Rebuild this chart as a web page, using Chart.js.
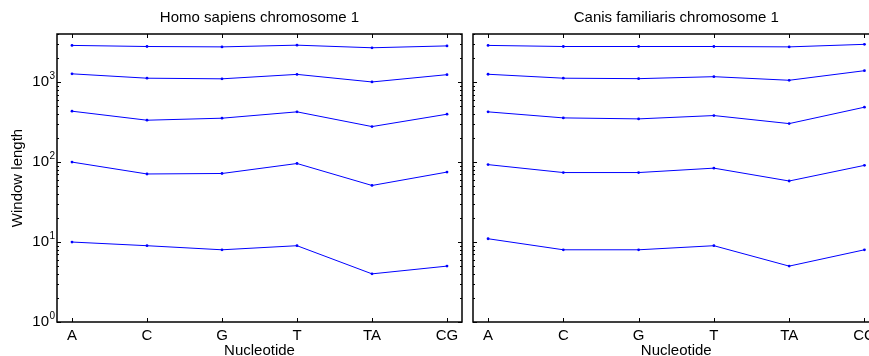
<!DOCTYPE html>
<html><head><meta charset="utf-8">
<script src="https://cdn.jsdelivr.net/npm/chart.js@4.4.1/dist/chart.umd.min.js"></script>
<style>
html,body{margin:0;padding:0;background:#fff;width:869px;height:356px;overflow:hidden;position:relative}
canvas{position:absolute;top:0}
#c1{left:0}
#c2{left:466px}
</style></head><body>
<canvas id="c1" width="466" height="356"></canvas>
<canvas id="c2" width="420" height="356"></canvas>
<script>
const categories = ['A', 'C', 'G', 'T', 'TA', 'CG'];
const yTickValues = [1, 10, 100, 1000];
const yTickExponents = ['0', '1', '2', '3'];
const titles = ['Homo sapiens chromosome 1', 'Canis familiaris chromosome 1'];

// Homo sapiens chromosome 1
const human1 = [2880, 2790, 2760, 2900, 2690, 2840];
const human2 = [1270, 1120, 1100, 1250, 1005, 1240];
const human3 = [433, 334, 354, 425, 278, 397];
const human4 = [100, 71, 72, 96, 51, 75];
const human5 = [10, 9, 8, 9, 4, 5];

// Canis familiaris chromosome 1
const dog1 = [2880, 2790, 2790, 2790, 2760, 2970];
const dog2 = [1255, 1120, 1105, 1170, 1055, 1390];
const dog3 = [425, 357, 347, 382, 303, 486];
const dog4 = [93, 74, 74, 84, 58, 91];
const dog5 = [11, 8, 8, 9, 5, 8];

const FONT = 'Liberation Sans, Arial, Helvetica, sans-serif';
const BLUE = '#0000ff';

const framePlugin = {
  id: 'frame',
  afterDatasetsDraw(chart, args, opts) {
    const {ctx, chartArea: a, scales: {x, y}} = chart;
    ctx.save();
    ctx.strokeStyle = '#000';
    ctx.lineWidth = 1;
    ctx.beginPath();
    x.ticks.forEach(t => {
      const px = Math.round(x.getPixelForValue(t.value)) + 0.5;
      ctx.moveTo(px, a.bottom); ctx.lineTo(px, a.bottom - 4);
      ctx.moveTo(px, a.top); ctx.lineTo(px, a.top + 4);
    });
    for (let k = 0; k < 4; k++) {
      for (let m = 1; m < 10; m++) {
        const v = m * Math.pow(10, k);
        if (v > y.max) break;
        const py = Math.round(y.getPixelForValue(v)) + 0.5;
        const len = m === 1 ? 4 : 2;
        ctx.moveTo(a.left, py); ctx.lineTo(a.left + len, py);
        ctx.moveTo(a.right, py); ctx.lineTo(a.right - len, py);
      }
    }
    ctx.stroke();
    ctx.lineWidth = 1.5;
    ctx.strokeRect(a.left, a.top, a.right - a.left, a.bottom - a.top);
    if (opts.labels) {
      ctx.fillStyle = '#000';
      ctx.textBaseline = 'middle';
      yTickValues.forEach((v, i) => {
        const py = y.getPixelForValue(v);
        ctx.font = '15px ' + FONT;
        ctx.textAlign = 'right';
        ctx.fillText('10', a.left - 8, py);
        ctx.font = '10px ' + FONT;
        ctx.textAlign = 'left';
        ctx.fillText(yTickExponents[i], a.left - 7.5, py - 5.5);
      });
    }
    ctx.restore();
  }
};

function makeChart(id, title, series, showY) {
  const datasets = series.map(s => ({
    data: s.map((v, i) => ({x: i + 1, y: v})),
    borderColor: BLUE,
    backgroundColor: BLUE,
    borderWidth: 1,
    pointRadius: 1.4,
    pointBorderWidth: 0,
    pointBackgroundColor: BLUE,
    tension: 0,
    fill: false
  }));
  return new Chart(document.getElementById(id), {
    type: 'line',
    data: {datasets},
    plugins: [framePlugin],
    options: {
      responsive: false,
      animation: false,
      devicePixelRatio: 1,
      layout: {padding: {left: 0, right: showY ? 3 : 6.5, top: 0, bottom: 0}},
      plugins: {
        legend: {display: false},
        tooltip: {enabled: false},
        title: {
          display: true, text: title, color: '#000', fullSize: false,
          font: {family: FONT, size: 15, weight: 'normal', lineHeight: 1.2},
          padding: {top: 8.5, bottom: 7.5}
        },
        frame: {labels: showY}
      },
      scales: {
        x: {
          type: 'linear', min: 0.8, max: 6.2,
          afterBuildTicks: s => { s.ticks = categories.map((c, i) => ({value: i + 1})); },
          afterFit: s => { s.height = 34; },
          grid: {display: false, drawTicks: false},
          border: {display: false},
          ticks: {
            color: '#000', padding: 4.5, maxRotation: 0, autoSkip: false,
            font: {family: FONT, size: 15, lineHeight: 1.2},
            callback: v => categories[Math.round(v) - 1]
          },
          title: {
            display: true, text: 'Nucleotide', color: '#000',
            font: {family: FONT, size: 15, lineHeight: 1},
            padding: {top: 0, bottom: -2}
          }
        },
        y: {
          type: 'logarithmic', min: 1, max: 4000,
          afterFit: s => { s.width = showY ? 57 : 7; },
          grid: {display: false, drawTicks: false},
          border: {display: false},
          ticks: {display: false},
          title: {
            display: showY, text: 'Window length', color: '#000',
            font: {family: FONT, size: 15, lineHeight: 1},
            padding: {top: 10.8, bottom: 0}
          }
        }
      }
    }
  });
}

makeChart('c1', titles[0], [human1, human2, human3, human4, human5], true);
makeChart('c2', titles[1], [dog1, dog2, dog3, dog4, dog5], false);
</script>
</body></html>
